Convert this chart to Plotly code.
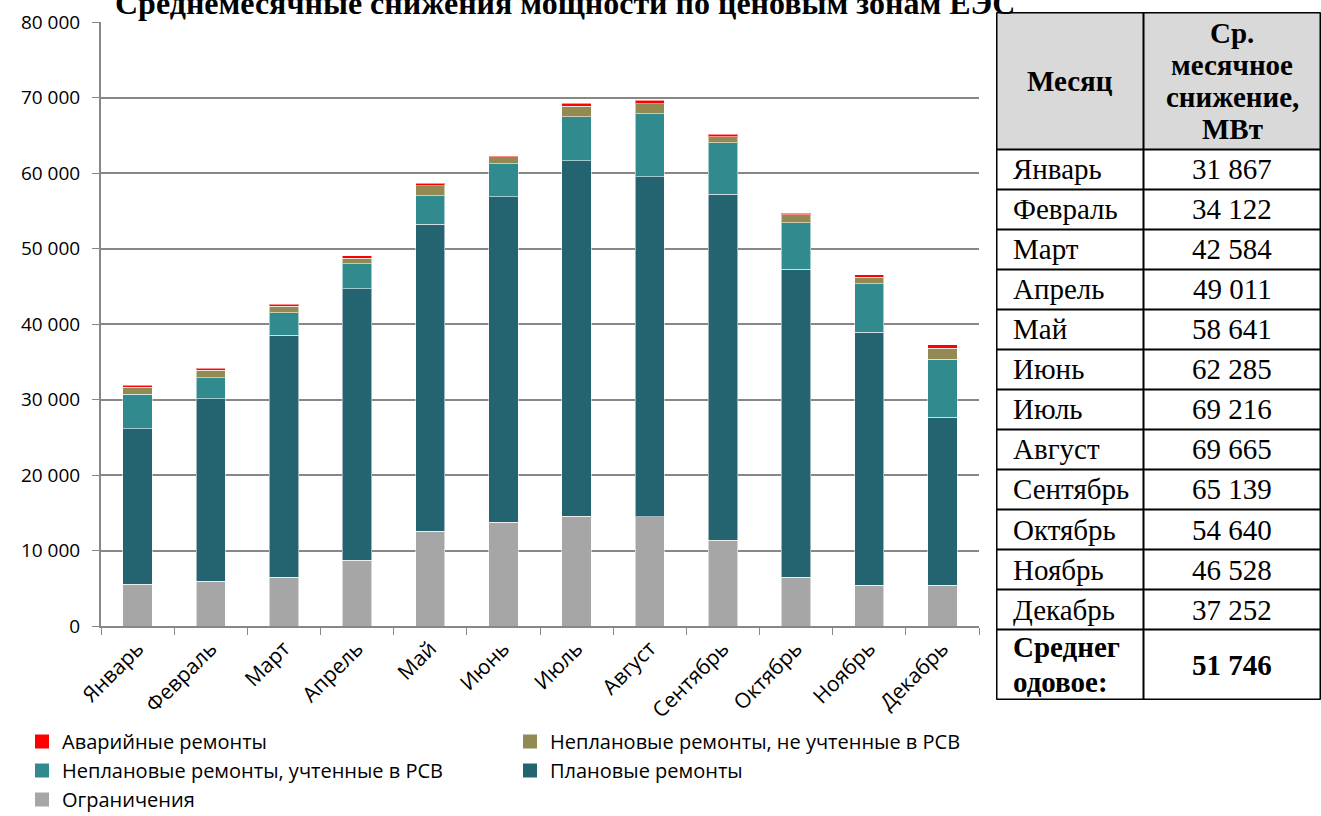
import plotly.graph_objects as go

W, H = 1321, 816

months = ["Январь", "Февраль", "Март", "Апрель", "Май", "Июнь", "Июль",
          "Август", "Сентябрь", "Октябрь", "Ноябрь", "Декабрь"]

ogranicheniya = [5560, 5960, 6490, 8740, 12540, 13770, 14570, 14440, 11350, 6490, 5390, 5430]
planovye = [20540, 24110, 32050, 35900, 40660, 43090, 47060, 45070, 45830, 40760, 33510, 22210]
neplan_rsv = [4590, 2820, 2920, 3310, 3790, 4370, 5830, 8340, 6830, 6130, 6400, 7680]
neplan_ne_rsv = [960, 1010, 920, 790, 1330, 890, 1410, 1290, 800, 1060, 920, 1500]
avariynye = [217, 222, 204, 271, 321, 165, 346, 525, 329, 200, 308, 432]

table_values = [31867, 34122, 42584, 49011, 58641, 62285, 69216, 69665, 65139, 54640, 46528, 37252]

series = [
    ("Ограничения", ogranicheniya, "#A6A6A6"),
    ("Плановые ремонты", planovye, "#246370"),
    ("Неплановые ремонты, учтенные в РСВ", neplan_rsv, "#308A8E"),
    ("Неплановые ремонты, не учтенные в РСВ", neplan_ne_rsv, "#938953"),
    ("Аварийные ремонты", avariynye, "#FF0000"),
]

title_text = "Среднемесячные снижения мощности по ценовым зонам ЕЭС"
header_month = "Месяц"
header_value_lines = ["Ср.", "месячное", "снижение,", "МВт"]
avg_label_lines = ["Среднег", "одовое:"]


def fmt(v):
    return f"{v:,}".replace(",", " ")


avg_value = round(sum(table_values) / len(table_values))

fig = go.Figure()
for name, vals, color in series:
    fig.add_trace(go.Bar(
        x=months, y=vals, name=name, legendgroup=name, showlegend=False,
        marker=dict(color=color, line=dict(color="rgba(255,255,255,0.55)", width=1)),
    ))
# legend proxies (square swatches like the source legend)
for name, vals, color in series:
    fig.add_trace(go.Scatter(
        x=[None], y=[None], mode="markers", name=name, legendgroup=name,
        marker=dict(symbol="square", size=14, color=color, line=dict(width=0)),
    ))

# ---------------- table (drawn on its own auxiliary axes, 1 unit = 1 px) -------------
SERIF = "Liberation Serif, Times New Roman, serif"
TBL_W = 324
COL1 = 147
HEAD_H = 137
ROW_H = 40
AVG_H = 70
n = len(months)
TBL_H = HEAD_H + n * ROW_H + AVG_H
TBL_LEFT, TBL_TOP = 996, 12

shapes = []
shapes.append(dict(type="rect", xref="x2", yref="y2", x0=0, x1=TBL_W, y0=0, y1=HEAD_H,
                   fillcolor="#D9D9D9", line=dict(width=0), layer="below"))
row_edges = [0, HEAD_H] + [HEAD_H + ROW_H * (i + 1) for i in range(n)] + [TBL_H]
for y in row_edges:
    shapes.append(dict(type="line", xref="x2", yref="y2", x0=0, x1=TBL_W, y0=y, y1=y,
                       line=dict(color="black", width=2)))
for x in [0, COL1, TBL_W]:
    shapes.append(dict(type="line", xref="x2", yref="y2", x0=x, x1=x, y0=0, y1=TBL_H,
                       line=dict(color="black", width=2)))

annotations = []
col2_c = (COL1 + TBL_W) / 2
tfont = dict(family=SERIF, size=29, color="black")
annotations.append(dict(xref="x2", yref="y2", x=COL1 / 2, y=HEAD_H / 2, text=f"<b>{header_month}</b>",
                        showarrow=False, xanchor="center", yanchor="middle", font=tfont))
for i, line in enumerate(header_value_lines):
    annotations.append(dict(xref="x2", yref="y2", x=col2_c,
                            y=HEAD_H / 2 + (i - (len(header_value_lines) - 1) / 2) * 32,
                            text=f"<b>{line}</b>", showarrow=False, xanchor="center", yanchor="middle",
                            font=tfont))
for i, (m, v) in enumerate(zip(months, table_values)):
    yc = HEAD_H + ROW_H * i + ROW_H / 2
    annotations.append(dict(xref="x2", yref="y2", x=14, y=yc, text=m, showarrow=False,
                            xanchor="left", yanchor="middle", font=tfont))
    annotations.append(dict(xref="x2", yref="y2", x=col2_c, y=yc, text=fmt(v), showarrow=False,
                            xanchor="center", yanchor="middle", font=tfont))
avg_c = HEAD_H + n * ROW_H + AVG_H / 2
for i, line in enumerate(avg_label_lines):
    annotations.append(dict(xref="x2", yref="y2", x=14, y=avg_c + (i - 0.5) * 35,
                            text=f"<b>{line}</b>", showarrow=False, xanchor="left", yanchor="middle",
                            font=tfont))
annotations.append(dict(xref="x2", yref="y2", x=col2_c, y=avg_c, text=f"<b>{fmt(avg_value)}</b>",
                        showarrow=False, xanchor="center", yanchor="middle", font=tfont))

# title (partly cut off by the top edge, as in the source image)
annotations.append(dict(text=f"<b>{title_text}</b>", xref="paper", yref="paper",
                        x=565 / W, y=1 - 3 / H, xanchor="center", yanchor="middle",
                        showarrow=False, font=dict(family=SERIF, size=32, color="black")))

axis_gray = "#878787"
SANS = "Open Sans, sans-serif"
fig.update_layout(
    template="none",
    width=W, height=H,
    margin=dict(l=0, r=0, t=0, b=0, autoexpand=False),
    paper_bgcolor="white", plot_bgcolor="white",
    barmode="stack", bargap=0.6,
    separators=", ",
    showlegend=True,
    legend=dict(
        orientation="h", x=22 / W, y=1 - 722 / H, xanchor="left", yanchor="top",
        traceorder="reversed", entrywidth=443, entrywidthmode="pixels",
        font=dict(family=SANS, size=20, color="black"),
        bgcolor="rgba(0,0,0,0)",
    ),
    xaxis=dict(
        domain=[101 / W, 979 / W], automargin=False,
        showline=True, linecolor=axis_gray, linewidth=2,
        ticks="outside", tickson="boundaries", ticklen=7, tickcolor=axis_gray, tickwidth=1,
        tickangle=-45, showgrid=False, zeroline=False,
        tickfont=dict(family=SANS, size=21, color="black"),
    ),
    yaxis=dict(
        domain=[(H - 626) / H, (H - 22) / H], automargin=False,
        range=[0, 80000], dtick=10000, tickformat=",d",
        showline=True, linecolor=axis_gray, linewidth=2,
        ticks="outside", ticklen=7, tickcolor=axis_gray, tickwidth=1,
        showgrid=True, gridcolor=axis_gray, gridwidth=2, zeroline=False,
        ticklabelstandoff=8,
        tickfont=dict(family=SANS, size=19, color="black"),
    ),
    xaxis2=dict(domain=[TBL_LEFT / W, (TBL_LEFT + TBL_W + 1) / W], range=[-0.5, TBL_W + 0.5],
                visible=False, fixedrange=True, anchor="y2"),
    yaxis2=dict(domain=[(H - TBL_TOP - TBL_H - 1) / H, (H - TBL_TOP) / H], range=[TBL_H + 0.5, -0.5],
                visible=False, fixedrange=True, anchor="x2"),
    shapes=shapes,
    annotations=annotations,
)

fig.write_html("out.html")
